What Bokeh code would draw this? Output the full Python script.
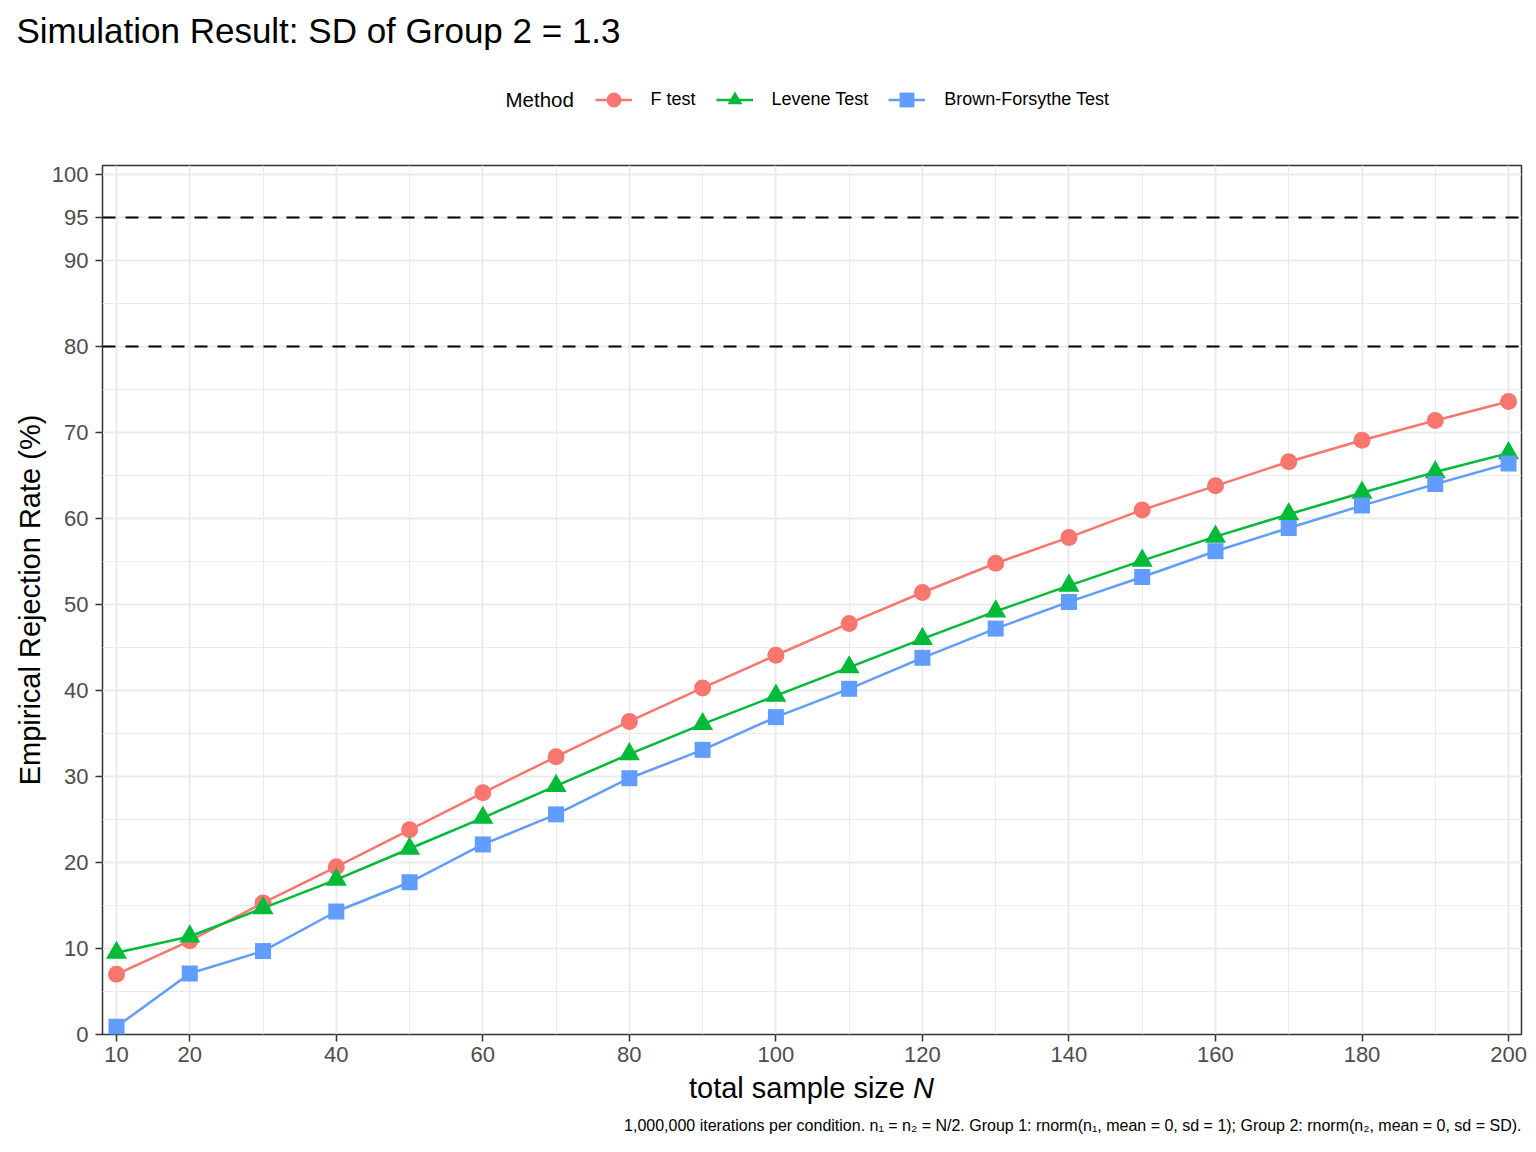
import math
from bokeh.plotting import figure
from bokeh.layouts import column
from bokeh.models import Range1d, FixedTicker, Legend, LegendItem, Label, Span
from bokeh.embed import file_html
from bokeh.resources import INLINE

# ---- data ----
N = [10, 20, 30, 40, 50, 60, 70, 80, 90, 100,
     110, 120, 130, 140, 150, 160, 170, 180, 190, 200]
f_test = [7.0, 10.9, 15.3, 19.5, 23.8, 28.1, 32.3, 36.4, 40.3, 44.1,
          47.8, 51.4, 54.8, 57.8, 61.0, 63.8, 66.6, 69.1, 71.4, 73.6]
levene = [9.5, 11.4, 14.7, 18.0, 21.6, 25.2, 28.9, 32.6, 36.1, 39.4,
          42.7, 46.0, 49.2, 52.2, 55.1, 57.9, 60.5, 63.0, 65.4, 67.6]
brown_forsythe = [0.9, 7.1, 9.7, 14.3, 17.7, 22.1, 25.6, 29.8, 33.1, 36.9,
                  40.2, 43.8, 47.2, 50.3, 53.2, 56.2, 58.9, 61.5, 64.0, 66.4]
methods = ["F test", "Levene Test", "Brown-Forsythe Test"]
colors = ["#F8766D", "#00BA38", "#619CFF"]
markers = ["circle", "triangle", "square"]
marker_sizes = [17, 21, 16]
reference_lines = [80, 95]
x_ticks = [10, 20, 40, 60, 80, 100, 120, 140, 160, 180, 200]
x_minor = [30, 50, 70, 90, 110, 130, 150, 170, 190]
y_ticks = [0, 10, 20, 30, 40, 50, 60, 70, 80, 90, 95, 100]
y_minor = [5, 15, 25, 35, 45, 55, 65, 75, 85]

title_text = "Simulation Result: SD of Group 2 = 1.3"
x_title = "total sample size"
x_title_italic = "N"
y_title = "Empirical Rejection Rate (%)"
legend_title = "Method"
caption = ("1,000,000 iterations per condition. n\u2081 = n\u2082 = N/2. "
           "Group 1: rnorm(n\u2081, mean = 0, sd = 1); "
           "Group 2: rnorm(n\u2082, mean = 0, sd = SD).")

FONT = "Liberation Sans"
W = 1534
TOP_H = 150
MAIN_H = 1000

X0, X1 = 8.089, 201.77
Y0, Y1 = 0.0, 101.05
series = [f_test, levene, brown_forsythe]

# ---------------- header strip: title + legend ----------------
head = figure(width=W, height=TOP_H, output_backend="svg", toolbar_location=None,
              x_range=Range1d(0, W), y_range=Range1d(0, TOP_H),
              x_axis_type=None, y_axis_type=None, min_border=0)
head.frame_align = False
head.outline_line_color = None
head.background_fill_color = "white"
head.border_fill_color = "white"
head.xgrid.visible = False
head.ygrid.visible = False
# key glyphs live on a range that keeps them out of view in the header
head.extra_x_ranges = {"key": Range1d(1000, 1100)}
head.extra_y_ranges = {"key": Range1d(1000, 1100)}

items = []
for vals, name, col, mk, sz in zip(series, methods, colors, markers,
                                   marker_sizes):
    kl = head.line(N, vals, line_color=col, line_width=2.5,
                   x_range_name="key", y_range_name="key")
    ks = head.scatter(N, vals, marker=mk, size=sz, fill_color=col,
                      line_color=None, x_range_name="key", y_range_name="key")
    items.append(LegendItem(label=name, renderers=[kl, ks]))

legend = Legend(items=items, orientation="horizontal",
                location=(594.5, TOP_H - 117.5),
                glyph_width=37, glyph_height=37, label_standoff=19, spacing=20,
                padding=0, margin=0, border_line_color=None,
                background_fill_alpha=0, label_text_font=FONT,
                label_text_font_size="18px", label_text_color="black",
                label_text_baseline="middle")
head.add_layout(legend, "center")

head.add_layout(Label(x=16, y=TOP_H - 29.5, text=title_text, text_font=FONT,
                      text_font_size="35px", text_color="black",
                      text_align="left", text_baseline="middle"))
head.add_layout(Label(x=505, y=TOP_H - 99, text=legend_title, text_font=FONT,
                      text_font_size="20.5px", text_color="black",
                      text_align="left", text_baseline="middle"))

# ---------------- main panel ----------------
TOP_B = 165 - TOP_H
p = figure(width=W, height=MAIN_H, output_backend="svg", toolbar_location=None,
           x_range=Range1d(X0, X1), y_range=Range1d(Y0, Y1),
           min_border_left=102, min_border_right=13,
           min_border_top=TOP_B, min_border_bottom=MAIN_H - TOP_B - 869)
p.background_fill_color = "white"
p.border_fill_color = "white"
p.outline_line_color = "#333333"
p.outline_line_width = 1.5

xt = FixedTicker(ticks=x_ticks, minor_ticks=x_minor)
yt = FixedTicker(ticks=y_ticks, minor_ticks=y_minor)
p.xaxis.ticker = xt
p.yaxis.ticker = yt
p.xgrid.ticker = xt
p.ygrid.ticker = yt

for g in (p.xgrid, p.ygrid):
    g.grid_line_color = "#EBEBEB"
    g.grid_line_width = 2
    g.minor_grid_line_color = "#EBEBEB"
    g.minor_grid_line_width = 1

for ax in (p.xaxis, p.yaxis):
    ax.axis_line_color = None
    ax.major_tick_out = 7
    ax.major_tick_in = 0
    ax.minor_tick_out = 0
    ax.minor_tick_in = 0
    ax.minor_tick_line_color = None
    ax.major_tick_line_color = "#333333"
    ax.major_tick_line_width = 1.5
    ax.major_label_text_font = FONT
    ax.major_label_text_font_size = "22px"
    ax.major_label_text_color = "#4D4D4D"
p.xaxis.major_label_standoff = 5
p.yaxis.major_label_standoff = 7

for v in reference_lines:
    p.add_layout(Span(location=v, dimension="width", line_color="black",
                      line_width=2, line_dash="13 10"))

for vals, col, mk, sz in zip(series, colors, markers, marker_sizes):
    p.line(N, vals, line_color=col, line_width=2.5)
    p.scatter(N, vals, marker=mk, size=sz, fill_color=col, line_color=None)


def label(text, dx, dy, size, align="left", style="normal", angle=0.0,
          ymid=0.0):
    return Label(x=X0, y=ymid, x_units="data", y_units="data",
                 x_offset=dx, y_offset=dy, text=text, text_font=FONT,
                 text_font_size=size, text_font_style=style,
                 text_align=align, text_baseline="middle", angle=angle,
                 text_color="black")


p.add_layout(label(x_title, 586.5, -53, "29px"), "below")
p.add_layout(label(x_title_italic, 810.5, -53, "29px", style="italic"), "below")
p.add_layout(label(caption, 1419, -91, "16px", align="right"), "below")
p.add_layout(label(y_title, -73, 0, "29px", align="center", angle=math.pi / 2,
                   ymid=(Y0 + Y1) / 2), "left")

page = column(head, p, spacing=0)
open("out.html", "w").write(file_html(page, INLINE))
